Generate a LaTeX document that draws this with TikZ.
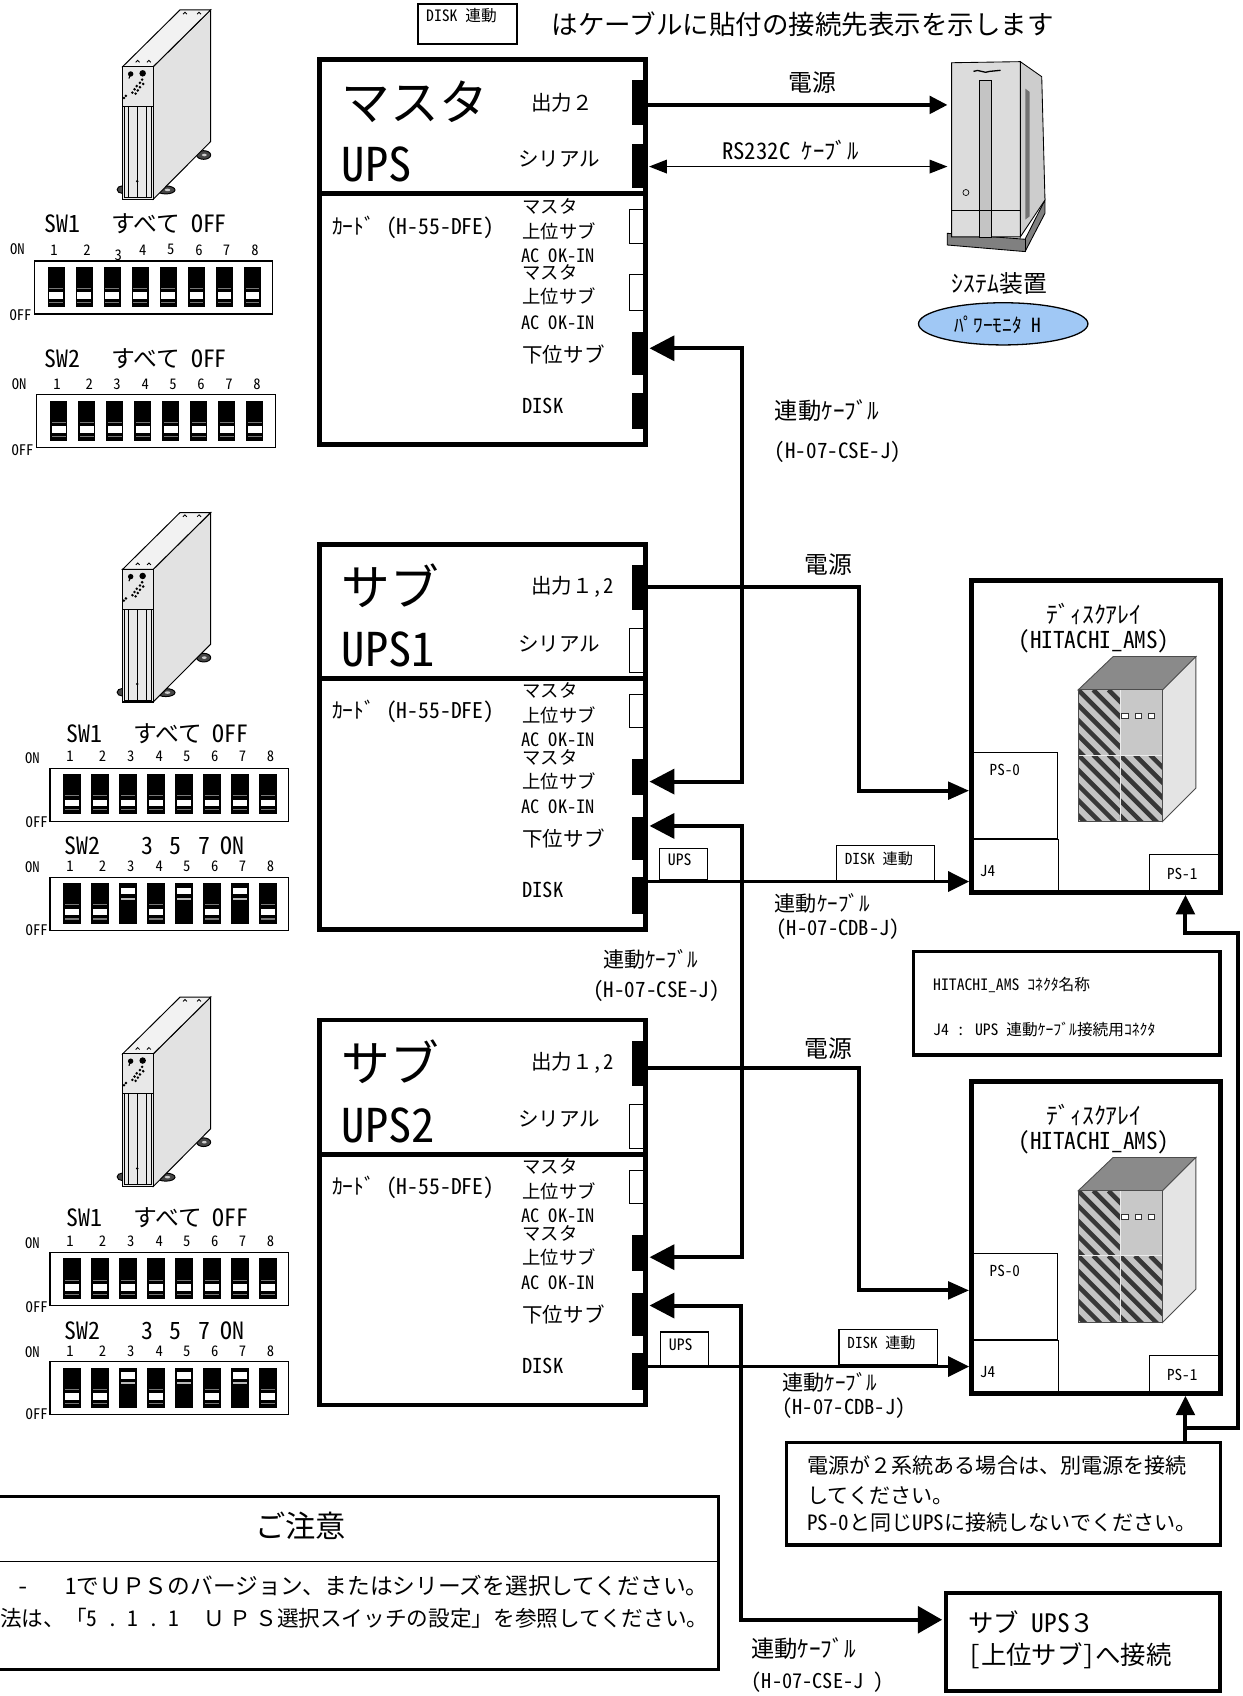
\documentclass[tikz,border=0pt]{standalone}
\usepackage{fontspec}
\setmainfont{Noto Sans CJK JP}
\newfontfamily\hwfont[RawFeature=+hwid]{Noto Sans CJK JP}
\usetikzlibrary{arrows.meta,calc,shapes.geometric}

\definecolor{ellblue}{RGB}{160,200,245}
\definecolor{towerface}{RGB}{232,232,232}
\definecolor{towerside}{RGB}{226,226,226}
\definecolor{towertop}{RGB}{242,242,242}
\definecolor{footgray}{RGB}{70,70,70}
\definecolor{cubetop}{RGB}{138,138,138}
\definecolor{cubefront}{RGB}{196,196,196}
\definecolor{cubeplain}{RGB}{200,200,200}
\definecolor{cubeside}{RGB}{228,228,228}
\definecolor{stripecol}{RGB}{55,55,55}
\definecolor{srvfront}{RGB}{220,220,220}
\definecolor{srvside}{RGB}{205,205,205}
\definecolor{srvslot}{RGB}{196,196,196}
\definecolor{srvbase}{RGB}{128,128,128}
\definecolor{dipline}{RGB}{120,120,120}

\newcommand\fsz[1]{\fontsize{#1pt}{#1pt}\selectfont}
\newcommand\hw[1]{{\hwfont #1}}

\tikzset{
  lbl/.style={inner sep=0pt, outer sep=0pt},
  upsframe/.style={draw, line width=4.5pt, inner sep=0pt, outer sep=0pt, anchor=north west},
  porton/.style={fill=black, inner sep=0pt, outer sep=0pt, minimum width=14pt},
  portoff/.style={draw, fill=white, line width=1pt, inner sep=0pt, outer sep=0pt, minimum width=13pt, xshift=-2.2pt},
  plainbox/.style={draw, inner sep=0pt, outer sep=0pt, anchor=north west},
  tagbox/.style={draw, line width=1.1pt, fill=white, inner sep=0pt, outer sep=0pt, anchor=north west},
  cable/.style={line width=3.7pt},
  diskcable/.style={line width=3pt},
  BigT/.tip={Triangle[length=23pt,width=23pt]},
  PwrT/.tip={Triangle[length=19.4pt,width=16pt]},
  DskT/.tip={Triangle[length=19.4pt,width=18.5pt]},
  SysT/.tip={Triangle[length=16.5pt,width=16pt]},
  SerT/.tip={Triangle[length=16.5pt,width=12.5pt]},
  UpT/.tip={Triangle[length=18pt,width=17pt]},
  BoxT/.tip={Triangle[length=22.4pt,width=24.6pt]},
}

% one UPS unit: frame, labels and connector blocks
\newcommand\upsunit[8]{%
\begin{scope}[shift={(0,#2)}]
  \node[upsframe, minimum width=302pt, minimum height=356pt] (#1) at (295,55) {};
  \draw[line width=4.5pt] (295,179) -- (597,179);
  \node[lbl, anchor=west, font=\fsz{45}] (#1-name) at (316,94) {#3};
  \node[lbl, anchor=west, font=\fsz{43}\hwfont] (#1-model) at (316,152) {#4};
  \node[lbl, anchor=west, font=\fsz{19}] (#1-outtxt) at (491,95) {#5};
  \node[lbl, anchor=west, font=\fsz{19}] (#1-sertxt) at (479,147) {シリアル};
  \node[lbl, anchor=west, font=\fsz{20}] (#1-card) at (307,210) {ｶｰﾄﾞ\hw{ (H-55-DFE)}};
  \node[lbl, anchor=west, font=\fsz{17}] (#1-ma) at (483,190.5) {マスタ};
  \node[lbl, anchor=west, font=\fsz{17}] (#1-ua) at (483,213.5) {上位サブ};
  \node[lbl, anchor=west, font=\fsz{17}\hwfont] (#1-aca) at (482,236) {AC OK-IN};
  \node[lbl, anchor=west, font=\fsz{17}] (#1-mb) at (483,252) {マスタ};
  \node[lbl, anchor=west, font=\fsz{17}] (#1-ub) at (483,274) {上位サブ};
  \node[lbl, anchor=west, font=\fsz{17}\hwfont] (#1-acb) at (482,298) {AC OK-IN};
  \node[lbl, anchor=west, font=\fsz{19}] (#1-lowtxt) at (483,327.5) {下位サブ};
  \node[lbl, anchor=west, font=\fsz{19}\hwfont] (#1-disktxt) at (483,375) {DISK};
  \node[porton, minimum height=42pt] (#1-c1) at (591,95) {};
  \node[#6, minimum height=41pt] (#1-c2) at (591,153.5) {};
  \node[#7, minimum height=31pt] (#1-c3) at (591,209.5) {};
  \node[#8, minimum height=33pt] (#1-c4) at (591,270.5) {};
  \node[porton, minimum height=40pt] (#1-c5) at (591,327) {};
  \node[porton, minimum height=34pt] (#1-c6) at (591,380) {};
\end{scope}}

% tower-type UPS seen in perspective, origin at the top left of its front face
\newcommand\upstower[2]{%
\begin{scope}[shift={(#1,#2)}, line width=0.9pt]
  \filldraw[fill=footgray] (-0.6,113.7) ellipse [x radius=4.5, y radius=3.4];
  \filldraw[fill=footgray] (39.9,114) ellipse [x radius=8.5, y radius=3.7];
  \filldraw[fill=footgray] (74.9,81.7) ellipse [x radius=6.5, y radius=4];
  \fill[gray!40] (41.5,114) ellipse [x radius=2.5, y radius=1.2];
  \fill[gray!40] (75.5,81.7) ellipse [x radius=2.2, y radius=1.2];
  \filldraw[fill=towerside] (28.3,0) -- (81.3,-52.4) -- (81.3,69.3) -- (28.3,122.6) -- cycle;
  \filldraw[fill=towertop] (0,0) -- (53,-52.4) -- (81.3,-52.4) -- (28.3,0) -- cycle;
  \foreach \hx/\hy in {13.9/-4,24.3/-4,57.6/-48.5,70.6/-48.5}
    \draw[line width=0.8pt] (\hx-1.8,\hy) arc[start angle=180, end angle=360, radius=1.8];
  \filldraw[fill=towerface, line width=1.2pt] (0,0) rectangle (28.3,122.6);
  \draw (0,37) -- (28.3,37);
  \draw (1.8,37) rectangle (26.5,121);
  \draw[line width=0.6pt] (5.5,37) -- (5.5,121);
  \draw[line width=1.2pt] (13.5,37) -- (13.5,121);
  \draw[line width=0.6pt] (22,37) -- (22,121);
  \fill (13.5,106) circle (1.3);
  \fill (7.4,6.8) circle (2.5);
  \fill (18.5,6.2) circle (3);
  \draw[line width=1pt] (7.4,6.8) -- (5.8,11);
  \foreach \dx/\dy in {18/12,16/15,19/16,13/18,16/19,11/21,14/22,9/24,12/25,3/27,1.2/29}
    \fill (\dx,\dy) circle (1.3);
\end{scope}}

% DIP switch bank: name, left x, top y, eight states (1 = ON)
\newcommand\dipbank[4]{%
  \node[plainbox, line width=1pt, minimum width=220.5pt, minimum height=49pt] (#1) at (#2,#3) {};
  \foreach \s [count=\i from 0] in {#4} {
    \begin{scope}[shift={(#2+12.4+\i*25.9,#3+5.3)}]
      \fill[black] (0,0) rectangle (16,37.5);
      \ifnum\s=1\relax
        \fill[white] (1.6,4.3) rectangle (14.4,10.2);
        \fill[gray!55] (1.6,13.6) rectangle (14.4,15.6);
      \else
        \fill[dipline] (1.6,19.6) rectangle (14.4,20.8);
        \fill[white] (1.6,23.8) rectangle (14.4,29.6);
        \fill[dipline] (1.6,32.6) rectangle (14.4,33.8);
      \fi
    \end{scope}
  }}

% striped front quadrant of the storage cabinet
\newcommand\stripequad[4]{%
  \begin{scope}
    \clip (#1,#2) rectangle (#3,#4);
    \fill[cubefront] (#1,#2) rectangle (#3,#4);
    \foreach \k in {0,...,9}
      \draw[stripecol, line width=4.2pt] (#1-70+\k*14,#2) -- ++(110,110);
  \end{scope}}

% disk array unit with its PS-0, J4 and PS-1 connectors
\newcommand\diskarray[2]{%
\begin{scope}[shift={(0,#2)}]
  \node[plainbox, line width=0.9pt, minimum width=79.2pt, minimum height=79.2pt] (#1-ps0) at (898.3,695.8) {};
  \node[plainbox, line width=0.9pt, minimum width=80pt, minimum height=49.9pt] (#1-j4) at (898.3,775.9) {};
  \node[plainbox, line width=0.9pt, minimum width=66.1pt, minimum height=35.3pt] (#1-ps1) at (1062.4,789.7) {};
  \node[plainbox, line width=4.6pt, minimum width=230.2pt, minimum height=288.1pt] (#1) at (898.3,536.9) {};
  \node[lbl, font=\fsz{22}] (#1-title) at (1011.5,568) {ﾃﾞｨｽｸｱﾚｲ};
  \node[lbl, font=\fsz{21.5}\hwfont] (#1-model) at (1011.4,593) {(HITACHI\_AMS)};
  \node[lbl, font=\fsz{14}\hwfont] (#1-ps0txt) at (929,711.5) {PS-0};
  \node[lbl, font=\fsz{14}\hwfont] (#1-j4txt) at (913,805) {J4};
  \node[lbl, font=\fsz{14}\hwfont] (#1-ps1txt) at (1093,808) {PS-1};
  % cabinet
  \filldraw[fill=cubetop, draw=black!70, line width=0.8pt] (996.8,637.8) -- (1029.1,607) -- (1105.6,607) -- (1074.8,637.8) -- cycle;
  \filldraw[fill=cubeside, draw=black!70, line width=0.8pt] (1074.8,637.8) -- (1105.6,607) -- (1105.6,728.7) -- (1074.8,759.5) -- cycle;
  \stripequad{996.8}{637.8}{1035.3}{697.9}
  \stripequad{996.8}{697.9}{1035.3}{759.5}
  \stripequad{1035.3}{697.9}{1074.8}{759.5}
  \fill[cubeplain] (1035.3,637.8) rectangle (1074.8,697.9);
  \draw[white!85!gray, line width=0.6pt] (1035.3,637.8) -- (1035.3,759.5) (996.8,697.9) -- (1074.8,697.9);
  \foreach \sx in {1036.9,1049.2,1061.5}
    \filldraw[fill=white, draw=black!80, line width=0.6pt] (\sx,659.4) rectangle ++(6,5);
  \draw[black!70, line width=0.8pt] (996.8,637.8) rectangle (1074.8,759.5);
\end{scope}}

\begin{document}
\begin{tikzpicture}[x=1pt,y=-1pt]
\useasboundingbox (0,0) rectangle (1149,1568);
\fill[white] (0,0) rectangle (1149,1568);

% legend for the cable tags
\node[plainbox, line width=1.1pt, minimum width=91.6pt, minimum height=37pt] (legend) at (386.4,3.7) {};
\node[lbl, anchor=west, font=\fsz{14.5}] (legend-txt) at (394,14) {\hw{DISK }連動};
\node[lbl, anchor=west, font=\fsz{24.5}] (title) at (510,22) {はケーブルに貼付の接続先表示を示します};

% UPS towers
\upstower{113.4}{61.6}
\upstower{113.4}{526.3}
\upstower{113.4}{974.3}

% switch settings, master UPS
\node[lbl, anchor=west, font=\fsz{22}] (p1a-title) at (41.6,207) {\hw{SW1}\hspace{1.3em}すべて\hspace{0.45em}\hw{OFF}};
\dipbank{p1a}{31.7}{241.3}{0,0,0,0,0,0,0,0}
\foreach \xx/\yy [count=\i] in {49.9/231,80.4/231,109.4/236,131.9/231,157.8/231,184/231,209.5/231,235.7/231}
  \node[lbl, font=\fsz{13.5}\hwfont] (p1a-n\i) at (\xx,\yy) {\i};
\node[lbl, font=\fsz{13.5}\hwfont] (p1a-on) at (16,230) {ON};
\node[lbl, font=\fsz{13.5}\hwfont] (p1a-off) at (19,291) {OFF};

\node[lbl, anchor=west, font=\fsz{22}] (p1b-title) at (41.6,332) {\hw{SW2}\hspace{1.3em}すべて\hspace{0.45em}\hw{OFF}};
\dipbank{p1b}{33.9}{365}{0,0,0,0,0,0,0,0}
\foreach \xx [count=\i] in {52.7,82.6,108.2,134.3,160,185.8,211.7,237.6}
  \node[lbl, font=\fsz{13.5}\hwfont] (p1b-n\i) at (\xx,355) {\i};
\node[lbl, font=\fsz{13.5}\hwfont] (p1b-on) at (17.7,355) {ON};
\node[lbl, font=\fsz{13.5}\hwfont] (p1b-off) at (20.8,416) {OFF};

% switch settings, sub UPS 1 and 2
\foreach \pn/\dy in {p2/0,p3/448} {
  \node[lbl, anchor=west, font=\fsz{22}] (\pn a-title) at (61.6,678+\dy) {\hw{SW1}\hspace{1.3em}すべて\hspace{0.45em}\hw{OFF}};
  \dipbank{\pn a}{46.2}{710.2+\dy}{0,0,0,0,0,0,0,0}
  \foreach \xx [count=\i] in {64.7,94.9,120.8,147.3,172.6,198.5,224.3,250.2}
    \node[lbl, font=\fsz{13.5}\hwfont] (\pn a-n\i) at (\xx,699.5+\dy) {\i};
  \node[lbl, font=\fsz{13.5}\hwfont] (\pn a-on) at (30,701+\dy) {ON};
  \node[lbl, font=\fsz{13.5}\hwfont] (\pn a-off) at (33.9,760.3+\dy) {OFF};
  \node[lbl, anchor=west, font=\fsz{22}\hwfont] (\pn b-title) at (60,782+\dy) {SW2\hspace{1.7em}3\hspace{0.7em}5\hspace{0.7em}7\hspace{0.45em}ON};
  \dipbank{\pn b}{46.2}{811+\dy}{0,0,1,0,1,0,1,0}
  \foreach \xx [count=\i] in {64.7,94.9,120.8,147.3,172.6,198.5,224.3,250.2}
    \node[lbl, font=\fsz{13.5}\hwfont] (\pn b-n\i) at (\xx,801+\dy) {\i};
  \node[lbl, font=\fsz{13.5}\hwfont] (\pn b-on) at (30,802+\dy) {ON};
  \node[lbl, font=\fsz{13.5}\hwfont] (\pn b-off) at (33.9,859.7+\dy) {OFF};
}

% UPS units
\upsunit{m}{0}{マスタ}{UPS}{出力２}{porton}{portoff}{portoff}
\upsunit{u1}{448}{サブ}{UPS1}{出力１\hw{,2}}{portoff}{portoff}{porton}
\upsunit{u2}{888}{サブ}{UPS2}{出力１\hw{,2}}{portoff}{portoff}{porton}

% system unit
\filldraw[fill=srvbase, line width=0.8pt] (875.7,215.7) -- (947.7,221.2) -- (966.1,184.9) -- (966.1,197.2) -- (947.7,232.6) -- (875.7,226.5) -- cycle;
\draw[line width=0.8pt] (947.7,221.2) -- (947.7,232.6);
\filldraw[fill=srvside, line width=0.8pt] (943.3,57) -- (963.1,70.9) -- (966.1,184.9) -- (943.3,219) -- cycle;
\filldraw[fill=srvfront, line width=0.8pt] (879.8,58) -- (943.3,57) -- (943.3,219) -- (879.8,219) -- cycle;
\filldraw[fill=srvslot, line width=0.6pt] (905.5,74) rectangle (916.5,219);
\draw[line width=0.6pt] (879.8,194) -- (943.3,194);
\draw[line width=0.6pt] (893,178) circle (2.8);
\fill[black!55] (948,82) -- (952,85) -- (952,200) -- (948,203) -- cycle;
\draw[line width=1.2pt] (900,66) .. controls (905,63) and (910,69) .. (915,66) -- (925,65);
\coordinate (sys-pin) at (876,97);
\coordinate (sys-sin) at (876,154);
\node[lbl, font=\fsz{22}] (sys-txt) at (924,262) {ｼｽﾃﾑ装置};
\node[draw, fill=ellblue, ellipse, line width=1.2pt, minimum width=156.6pt, minimum height=39pt, inner sep=0pt] (pmon) at (927.5,299.4) {};
\node[lbl, font=\fsz{18}] (pmon-txt) at (922.5,300) {ﾊﾟﾜｰﾓﾆﾀ\hw{ H}};

% disk arrays
\diskarray{a1}{0}
\diskarray{a2}{463.1}

% connector name box
\node[plainbox, line width=3pt, minimum width=283.6pt, minimum height=95.6pt] (cname) at (844.2,879.7) {};
\node[lbl, anchor=west, font=\fsz{14.5}] (cname-l1) at (862.8,910.5) {\hw{HITACHI\_AMS }ｺﾈｸﾀ名称};
\node[lbl, anchor=west, font=\fsz{14.5}] (cname-l2) at (862.8,951.5) {\hw{J4 : UPS }連動ｹｰﾌﾞﾙ接続用ｺﾈｸﾀ};

% second power source note
\node[plainbox, fill=white, line width=3pt, minimum width=401.3pt, minimum height=95pt] (note) at (727,1333.3) {};
\node[lbl, anchor=west, font=\fsz{19.5}] (note-l1) at (746.3,1355) {電源が２系統ある場合は、別電源を接続};
\node[lbl, anchor=west, font=\fsz{19.5}] (note-l2) at (746.3,1382.5) {してください。};
\node[lbl, anchor=west, font=\fsz{19.5}] (note-l3) at (746.3,1408) {\hw{PS-0}と同じ\hw{UPS}に接続しないでください。};

% next sub UPS
\node[plainbox, line width=3.7pt, minimum width=253.4pt, minimum height=90.6pt] (ups3) at (874.6,1472.3) {};
\node[lbl, anchor=west, font=\fsz{23.5}] (ups3-l1) at (895.2,1500) {サブ\hw{ UPS}３};
\node[lbl, anchor=west, font=\fsz{23.5}] (ups3-l2) at (895.2,1531) {\hw{[}上位サブ\hw{]}へ接続};
\coordinate (ups3-in) at (871,1497.5);

% caution box
\node[plainbox, line width=3pt, minimum width=672pt, minimum height=160.3pt] (notice) at (-8,1383.5) {};
\draw[line width=1.5pt] (notice.west |- 0,1443.6) -- (notice.east |- 0,1443.6);
\node[lbl, font=\fsz{28}] (notice-title) at (278,1411) {ご注意};
\node[lbl, anchor=east, font=\fsz{21}] (notice-l1) at (655,1466) {\hw{-}\hspace{1.6em}\hw{1}でＵＰＳのバージョン、またはシリーズを選択してください。};
\node[lbl, anchor=east, font=\fsz{20}] (notice-l2) at (655,1496.5) {法は、「\hw{5}\hspace{0.45em}\hw{.}\hspace{0.45em}\hw{1}\hspace{0.45em}\hw{.}\hspace{0.45em}\hw{1}\hspace{1.1em}Ｕ\hspace{0.2em}Ｐ\hspace{0.2em}Ｓ選択スイッチの設定」を参照してください。};

% cable tags
\node[tagbox, minimum width=44.3pt, minimum height=29.3pt] (u1-tag) at (609.5,784.2) {};
\node[lbl, anchor=west, font=\fsz{14.5}\hwfont] (u1-tagtxt) at (617.5,795) {UPS};
\node[tagbox, minimum width=90.9pt, minimum height=32.7pt] (a1-tag) at (773.4,781.7) {};
\node[lbl, anchor=west, font=\fsz{14}] (a1-tagtxt) at (781,793.5) {\hw{DISK }連動};
\node[tagbox, minimum width=44.3pt, minimum height=31pt] (u2-tag) at (610.5,1231.5) {};
\node[lbl, anchor=west, font=\fsz{14.5}\hwfont] (u2-tagtxt) at (618.5,1243) {UPS};
\node[tagbox, minimum width=91.5pt, minimum height=32.5pt] (a2-tag) at (775.6,1229.5) {};
\node[lbl, anchor=west, font=\fsz{14}] (a2-tagtxt) at (783.5,1241) {\hw{DISK }連動};

% cable labels
\node[lbl, font=\fsz{22}] (lb-pwr0) at (751.3,76.3) {電源};
\node[lbl, font=\fsz{21}] (lb-rs) at (730.7,138.7) {\hw{RS232C }ｹｰﾌﾞﾙ};
\node[lbl, anchor=west, font=\fsz{21.5}] (lb-cse1) at (716.4,380) {連動ｹｰﾌﾞﾙ};
\node[lbl, anchor=west, font=\fsz{19.5}\hwfont] (lb-cse1b) at (716.4,418) {(H-07-CSE-J)};
\node[lbl, font=\fsz{22}] (lb-pwr1) at (765.7,521.6) {電源};
\node[lbl, anchor=west, font=\fsz{19.5}] (lb-cdb1) at (716.4,835) {連動ｹｰﾌﾞﾙ};
\node[lbl, anchor=west, font=\fsz{19}\hwfont] (lb-cdb1b) at (718,859) {(H-07-CDB-J)};
\node[lbl, anchor=west, font=\fsz{19.5}] (lb-cse2) at (557.7,887) {連動ｹｰﾌﾞﾙ};
\node[lbl, anchor=west, font=\fsz{19.5}\hwfont] (lb-cse2b) at (548.5,916) {(H-07-CSE-J)};
\node[lbl, font=\fsz{22}] (lb-pwr2) at (765.7,969) {電源};
\node[lbl, anchor=west, font=\fsz{19.5}] (lb-cdb2) at (723.3,1278) {連動ｹｰﾌﾞﾙ};
\node[lbl, anchor=west, font=\fsz{19}\hwfont] (lb-cdb2b) at (723.3,1302) {(H-07-CDB-J)};
\node[lbl, anchor=west, font=\fsz{21.5}] (lb-cse3) at (694.4,1524) {連動ｹｰﾌﾞﾙ};
\node[lbl, anchor=west, font=\fsz{18.8}\hwfont] (lb-cse3b) at (695,1555) {(H-07-CSE-J )};

% port positions on the units
\coordinate (m-pout) at (599,97);
\coordinate (m-pser) at (600,154);
\coordinate (m-plow) at (600.5,322);
\coordinate (u1-pout) at (599,543);
\coordinate (u1-pm2) at (600.5,722.6);
\coordinate (u1-plow) at (600.5,763.6);
\coordinate (u1-pdisk) at (599,815);
\coordinate (u2-pout) at (599,987.6);
\coordinate (u2-pm2) at (600.5,1162.3);
\coordinate (u2-plow) at (600.5,1207);
\coordinate (u2-pdisk) at (599,1263.4);
\coordinate (a1-in0) at (896,731);
\coordinate (a1-inj) at (896,815);
\coordinate (a1-in1) at (1096,827.3);
\coordinate (a2-in0) at (896,1193);
\coordinate (a2-inj) at (896,1263.4);
\coordinate (a2-in1) at (1096,1290.4);

% cables
\draw[cable, -{SysT}] (m-pout) -- (sys-pin);
\draw[line width=1.5pt, {SerT}-{SerT}] (m-pser) -- (sys-sin);
\draw[cable, {BigT}-{BigT}] (m-plow) -- ++(85.3,0) |- (u1-pm2);
\draw[cable, -{PwrT}] (u1-pout) -- ++(195.4,0) |- (a1-in0);
\draw[diskcable, -{DskT}] (u1-pdisk) -- (a1-inj);
\draw[cable, {BigT}-{BigT}] (u1-plow) -- ++(85.3,0) |- (u2-pm2);
\draw[cable, -{PwrT}] (u2-pout) -- ++(195.4,0) |- (a2-in0);
\draw[diskcable, -{DskT}] (u2-pdisk) -- (a2-inj);
\draw[cable, {BigT}-{BoxT}] (u2-plow) -- ++(85,0) |- (ups3-in);
\draw[cable, -{UpT}] (note.north -| a2-in1) -- (a2-in1);
\draw[cable, -{UpT}] ($(note.north -| a2-in1)+(0,-13)$) -- ++(49,0) |- ($(a1-in1)+(0,35.5)$) -- (a1-in1);
\end{tikzpicture}
\end{document}
